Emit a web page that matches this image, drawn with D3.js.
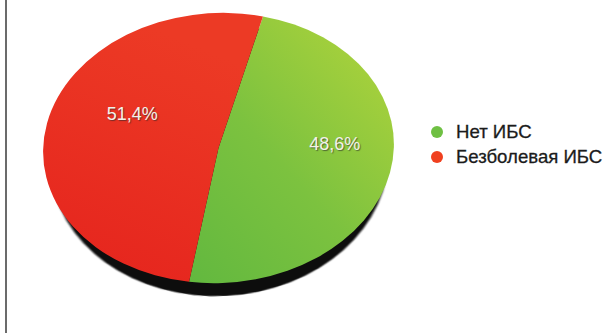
<!DOCTYPE html>
<html lang="ru">
<head>
	<meta charset="UTF-8">
	<title>ИБС</title>
	<style>
		body { margin: 0; background: #fff; }
		svg { display: block; font-family: "Liberation Sans", Arial, sans-serif; }
	</style>
</head>
<body>
	<svg id="cont" width="614" height="333"></svg>
</body>
<script src="https://cdn.jsdelivr.net/npm/d3@7"></script>
<script>
	// data
	let categories = ["Нет ИБС", "Безболевая ИБС"];
	let values = [48.6, 51.4];
	let labels = ["48,6%", "51,4%"];
	let colors = ["#6fc043", "#f0401f"];

	let svg = d3.select("#cont");
	let cx = 218.5, cy = 148;
	let r = 175.5;
	let k = 135 / r;        // vertical squash of the tilted pie
	let tilt = -3;           // degrees

	// left border of the scanned figure
	svg.append("line")
		.attr("x1", 6).attr("x2", 6)
		.attr("y1", 0).attr("y2", 333)
		.attr("stroke", "#6b6b6b")
		.attr("stroke-width", 2);

	let defs = svg.append("defs");
	let gGreen = defs.append("linearGradient").attr("id", "gGreen")
		.attr("x1", "0%").attr("y1", "100%").attr("x2", "100%").attr("y2", "0%");
	gGreen.append("stop").attr("offset", "0%").attr("stop-color", "#62b83f");
	gGreen.append("stop").attr("offset", "45%").attr("stop-color", "#7cc23f");
	gGreen.append("stop").attr("offset", "100%").attr("stop-color", "#b4d53b");
	let gRed = defs.append("linearGradient").attr("id", "gRed")
		.attr("x1", "0%").attr("y1", "100%").attr("x2", "40%").attr("y2", "0%");
	gRed.append("stop").attr("offset", "0%").attr("stop-color", "#e5231d");
	gRed.append("stop").attr("offset", "100%").attr("stop-color", "#ec3a25");
	defs.append("filter").attr("id", "blur")
		.append("feGaussianBlur").attr("stdDeviation", 1);

	let fills = ["url(#gGreen)", "url(#gRed)"];

	let start = 17 * Math.PI / 180;
	let pie = d3.pie()
		.sort(null)
		.startAngle(start)
		.endAngle(start + 2 * Math.PI);
	let arcs = pie(values);

	let arc = d3.arc().innerRadius(0).outerRadius(r);

	// dark side / shadow under the disc
	svg.append("g")
		.attr("transform", `translate(${cx + 1},${cy + 13}) rotate(${tilt}) scale(0.96,${k})`)
		.append("path")
		.attr("d", arc({startAngle: 0, endAngle: 2 * Math.PI}))
		.attr("fill", "#0a0a0a")
		.attr("filter", "url(#blur)");

	let body = svg.append("g")
		.attr("transform", `translate(${cx},${cy}) rotate(${tilt}) scale(1,${k})`);

	body.selectAll("path.slice")
		.data(arcs)
		.enter()
		.append("path")
		.attr("class", "slice")
		.attr("d", arc)
		.attr("fill", (d, i) => fills[i]);

	// labels: centroid of an inner arc, projected like the disc
	let labelArc = d3.arc().innerRadius(r * 0.59).outerRadius(r * 0.59);
	let rad = tilt * Math.PI / 180;
	function project(p) {
		let x = p[0], y = p[1] * k;
		return [cx + 15 + x * Math.cos(rad) - y * Math.sin(rad),
			cy - 19 + x * Math.sin(rad) + y * Math.cos(rad)];
	}

	svg.selectAll("text.pct")
		.data(arcs)
		.enter()
		.append("text")
		.attr("class", "pct")
		.attr("x", d => project(labelArc.centroid(d))[0])
		.attr("y", d => project(labelArc.centroid(d))[1])
		.attr("text-anchor", "middle")
		.attr("dominant-baseline", "central")
		.attr("font-size", 18)
		.attr("fill", "#f3f1ea")
		.style("text-shadow", "1px 1px 1px rgba(40,40,40,0.6)")
		.text((d, i) => labels[i]);

	// legend
	let ly = d3.scalePoint().domain(categories).range([132, 157]);
	let legend = svg.selectAll("g.leg")
		.data(categories)
		.enter()
		.append("g")
		.attr("class", "leg")
		.attr("transform", d => `translate(437,${ly(d)})`);
	legend.append("circle")
		.attr("r", 6)
		.attr("fill", (d, i) => colors[i]);
	legend.append("text")
		.attr("x", 19)
		.attr("y", -1)
		.attr("dominant-baseline", "central")
		.attr("font-size", 18.6)
		.attr("fill", "#1b1b1b")
		.attr("stroke", "#1b1b1b")
		.attr("stroke-width", 0.3)
		.text(d => d);
</script>
</html>
